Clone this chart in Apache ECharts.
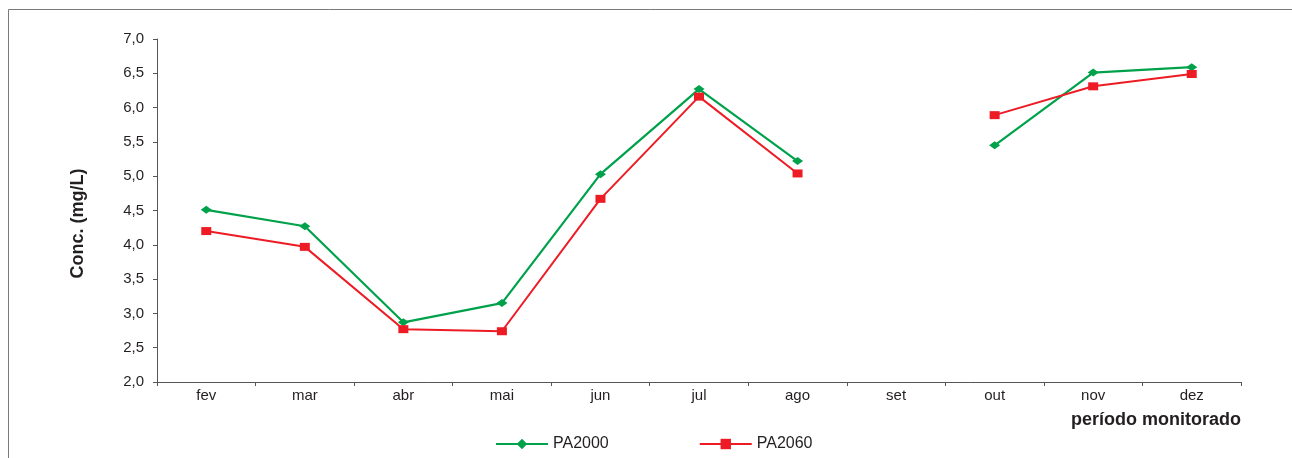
<!DOCTYPE html>
<html><head><meta charset="utf-8">
<script src="https://cdn.jsdelivr.net/npm/echarts@6/dist/echarts.min.js"></script>
<style>html,body{margin:0;padding:0;background:#fff}#c{width:1292px;height:458px}</style>
</head><body><div id="c"></div>
<script>
const categories = ['fev','mar','abr','mai','jun','jul','ago','set','out','nov','dez'];
const pa2000 = [4.51, 4.27, 2.87, 3.15, 5.03, 6.27, 5.22, null, 5.45, 6.51, 6.59];
const pa2060 = [4.20, 3.97, 2.77, 2.74, 4.67, 6.16, 5.04, null, 5.89, 6.31, 6.49];
const yTicks = {min: 2.0, max: 7.0, interval: 0.5};

const txt = '#231f20';
const font = 'Liberation Sans, Arial';
const chart = echarts.init(document.getElementById('c'), null, {renderer: 'canvas'});
chart.setOption({
  animation: false,
  backgroundColor: '#fff',
  graphic: [{
    type: 'rect', shape: {x: 8.5, y: 9.5, width: 1400, height: 500},
    style: {fill: 'none', stroke: '#7a7a7a', lineWidth: 1}, silent: true
  }],
  grid: {left: 157, right: 51, top: 39, bottom: 76, containLabel: false},
  legend: {
    bottom: 1, left: 490, itemWidth: 52, itemHeight: 13, itemGap: 90,
    textStyle: {fontFamily: font, fontSize: 16, color: txt},
    data: ['PA2000', 'PA2060']
  },
  xAxis: {
    type: 'category', data: categories, boundaryGap: true,
    name: 'período monitorado', nameLocation: 'end',
    nameGap: 0,
    nameTextStyle: {fontFamily: font, fontWeight: 'bold', fontSize: 18, color: txt,
      align: 'right', verticalAlign: 'top', padding: [29, 0, 0, 0]},
    axisLine: {lineStyle: {color: '#555', width: 1}},
    axisTick: {show: true, alignWithLabel: false, length: 4, lineStyle: {color: '#555'}},
    axisLabel: {fontFamily: font, fontSize: 15, color: txt, margin: 6}
  },
  yAxis: {
    type: 'value', min: yTicks.min, max: yTicks.max, interval: yTicks.interval,
    name: 'Conc. (mg/L)', nameLocation: 'middle', nameGap: 70, nameRotate: 90,
    nameTextStyle: {fontFamily: font, fontWeight: 'bold', fontSize: 18, color: txt,
      padding: [0, 26, 0, 0]},
    axisLine: {show: true, lineStyle: {color: '#555', width: 1}},
    axisTick: {show: true, length: 4, lineStyle: {color: '#555'}},
    splitLine: {show: false},
    axisLabel: {fontFamily: font, fontSize: 15, color: txt, margin: 13,
      formatter: v => v.toFixed(1).replace('.', ',')}
  },
  series: [
    {name: 'PA2000', type: 'line', data: pa2000, connectNulls: false,
     symbol: 'diamond', symbolSize: [11, 8],
     itemStyle: {color: '#00a14b'}, lineStyle: {color: '#00a14b', width: 2.2}},
    {name: 'PA2060', type: 'line', data: pa2060, connectNulls: false,
     symbol: 'rect', symbolSize: [10, 8],
     itemStyle: {color: '#ed1c24'}, lineStyle: {color: '#ed1c24', width: 2}}
  ]
});
</script></body></html>
